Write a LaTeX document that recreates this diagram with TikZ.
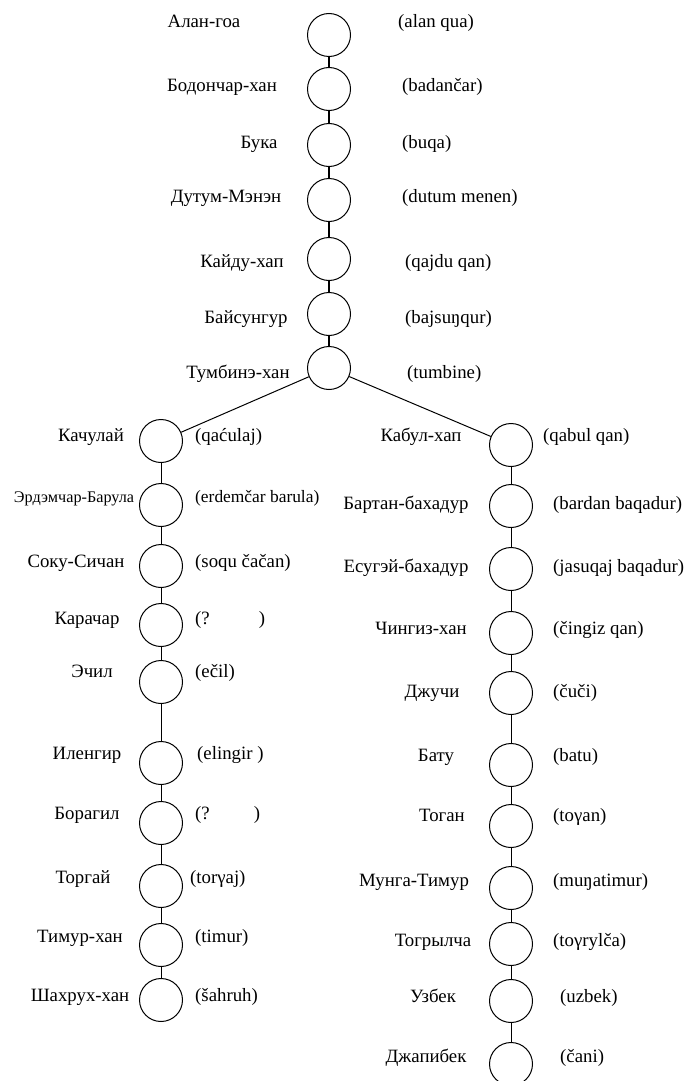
\documentclass[tikz,border=0pt]{standalone}
\usepackage{fontspec}
\setmainfont{Liberation Serif}
\usepackage{tikz}

\begin{document}
\begin{tikzpicture}[x=1pt, y=-1pt,
    gen/.style={circle, draw, line width=1pt, minimum size=43pt, inner sep=0pt},
    who/.style={inner sep=0pt, text height=13pt, text depth=4pt},
    tr/.style={who, anchor=west}]

    \useasboundingbox (0,0) rectangle (686,1081);

    \fontsize{18.8}{22}\selectfont

    % main line

    \node[gen] (c1) at (329,35) {};
    \node[who] (c1n) at (204,23) {Алан-гоа};
    \node[tr] (c1t) at (398,23) {(alan qua)};

    \node[gen] (c2) at (329,89) {};
    \node[who] (c2n) at (222,87) {Бодончар-хан};
    \node[tr] (c2t) at (402,87) {(badančar)};

    \node[gen] (c3) at (329,145) {};
    \node[who] (c3n) at (259,144) {Бука};
    \node[tr] (c3t) at (402,144) {(buqa)};

    \node[gen] (c4) at (329,200) {};
    \node[who] (c4n) at (226,198) {Дутум-Мэнэн};
    \node[tr] (c4t) at (402,198) {(dutum menen)};

    \node[gen] (c5) at (329,259) {};
    \node[who] (c5n) at (242,263) {Кайду-хап};
    \node[tr] (c5t) at (405,263) {(qajdu qan)};

    \node[gen] (c6) at (329,314) {};
    \node[who] (c6n) at (246,319) {Байсунгур};
    \node[tr] (c6t) at (405,319) {(bajsuŋqur)};

    \node[gen] (c7) at (329,368) {};
    \node[who] (c7n) at (238,374) {Тумбинэ-хан};
    \node[tr] (c7t) at (407,374) {(tumbine)};

    \draw[line width=1.3pt] (c1) -- (c2) -- (c3) -- (c4) -- (c5) -- (c6) -- (c7);

    % left branch

    \node[gen] (a1) at (161,441) {};
    \node[who] (a1n) at (91,437) {Качулай};
    \node[tr] (a1t) at (195,437) {(qaćulaj)};

    \node[gen] (a2) at (161,505) {};
    \node[who, font=\fontsize{16.2}{20}\selectfont] (a2n) at (74,498) {Эрдэмчар-Барула};
    \node[tr, font=\fontsize{17.4}{20}\selectfont] (a2t) at (195,498) {(erdemčar barula)};

    \node[gen] (a3) at (161,566) {};
    \node[who] (a3n) at (76,563) {Соку-Сичан};
    \node[tr] (a3t) at (195,563) {(soqu čačan)};

    \node[gen] (a4) at (161,625) {};
    \node[who] (a4n) at (87,620) {Карачар};
    \node[tr] (a4t) at (195,620) {(?\hspace*{49pt})};

    \node[gen] (a5) at (161,682) {};
    \node[who] (a5n) at (92,673) {Эчил};
    \node[tr] (a5t) at (195,673) {(ečil)};

    \node[gen] (a6) at (161,763) {};
    \node[who] (a6n) at (87,755) {Иленгир};
    \node[tr] (a6t) at (197,755) {(elingir )};

    \node[gen] (a7) at (161,823) {};
    \node[who] (a7n) at (87,815) {Борагил};
    \node[tr] (a7t) at (195,815) {(?\hspace*{44pt})};

    \node[gen] (a8) at (161,886) {};
    \node[who] (a8n) at (83,879) {Торгай};
    \node[tr] (a8t) at (190,879) {(torγaj)};

    \node[gen] (a9) at (161,945) {};
    \node[who] (a9n) at (80,938) {Тимур-хан};
    \node[tr] (a9t) at (195,938) {(timur)};

    \node[gen] (a10) at (161,1000) {};
    \node[who] (a10n) at (80,997) {Шахрух-хан};
    \node[tr] (a10t) at (195,997) {(šahruh)};

    \draw[line width=1pt] (c7) -- (a1);
    \draw[line width=0.7pt] (a1) -- (a2) -- (a3) -- (a4) -- (a5) -- (a6) -- (a7) -- (a8) -- (a9) -- (a10);

    % right branch

    \node[gen] (b1) at (511,445) {};
    \node[who] (b1n) at (421,437) {Кабул-хап};
    \node[tr] (b1t) at (543,437) {(qabul qan)};

    \node[gen] (b2) at (511,506) {};
    \node[who] (b2n) at (406,505) {Бартан-бахадур};
    \node[tr] (b2t) at (553,505) {(bardan baqadur)};

    \node[gen] (b3) at (511,569) {};
    \node[who] (b3n) at (406,568) {Есугэй-бахадур};
    \node[tr] (b3t) at (553,568) {(jasuqaj baqadur)};

    \node[gen] (b4) at (511,633) {};
    \node[who] (b4n) at (421,630) {Чингиз-хан};
    \node[tr] (b4t) at (553,630) {(čingiz qan)};

    \node[gen] (b5) at (511,693) {};
    \node[who] (b5n) at (432,693) {Джучи};
    \node[tr] (b5t) at (553,693) {(čuči)};

    \node[gen] (b6) at (511,765) {};
    \node[who] (b6n) at (436,757) {Бату};
    \node[tr] (b6t) at (553,757) {(batu)};

    \node[gen] (b7) at (511,826) {};
    \node[who] (b7n) at (442,817) {Тоган};
    \node[tr] (b7t) at (553,817) {(toγan)};

    \node[gen] (b8) at (511,888) {};
    \node[who] (b8n) at (414,882) {Мунга-Тимур};
    \node[tr] (b8t) at (553,882) {(muŋatimur)};

    \node[gen] (b9) at (511,944) {};
    \node[who] (b9n) at (433,942) {Тогрылча};
    \node[tr] (b9t) at (553,942) {(toγrylča)};

    \node[gen] (b10) at (511,1001) {};
    \node[who] (b10n) at (433,998) {Узбек};
    \node[tr] (b10t) at (560,998) {(uzbek)};

    \node[gen] (b11) at (511,1064) {};
    \node[who] (b11n) at (426,1058) {Джапибек};
    \node[tr] (b11t) at (560,1058) {(čani)};

    \draw[line width=1pt] (c7) -- (b1);
    \draw[line width=0.9pt] (b1) -- (b2) -- (b3) -- (b4) -- (b5) -- (b6) -- (b7) -- (b8) -- (b9) -- (b10) -- (b11);

\end{tikzpicture}
\end{document}
